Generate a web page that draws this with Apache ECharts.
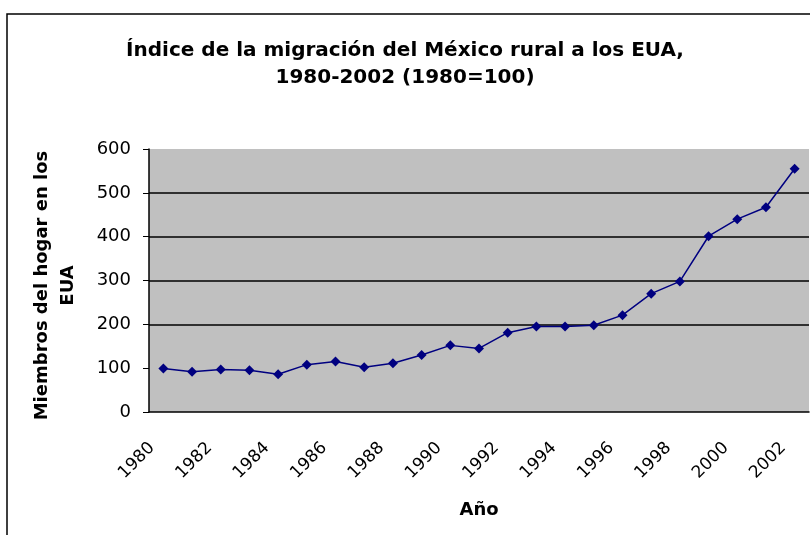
<!DOCTYPE html>
<html>
<head>
<meta charset="utf-8">
<script src="https://cdn.jsdelivr.net/npm/echarts@6/dist/echarts.min.js"></script>
<style>
  html, body { margin: 0; padding: 0; background: #fff; }
  #chart { width: 810px; height: 535px; }
</style>
</head>
<body>
<div id="chart"></div>
<script>
const years = ['1980', '1981', '1982', '1983', '1984', '1985', '1986', '1987', '1988', '1989', '1990', '1991',
  '1992', '1993', '1994', '1995', '1996', '1997', '1998', '1999', '2000', '2001', '2002']
const indexValues = [99, 92, 97, 95, 86, 108, 115, 102, 111, 130, 152, 145,
  181, 195, 195, 198, 221, 270, 298, 401, 440, 467, 555]
const gridLines = [200, 300, 400, 500]

const font = '"DejaVu Sans", Verdana, sans-serif'
const chart = echarts.init(document.getElementById('chart'))
chart.setOption({
  animation: false,
  textStyle: { fontFamily: font },
  title: {
    text: 'Índice de la migración del México rural a los EUA,\n1980-2002 (1980=100)',
    left: 'center', top: 32,
    textStyle: { fontSize: 20, fontWeight: 'bold', color: '#000', lineHeight: 27, fontFamily: font }
  },
  graphic: [{
    type: 'rect', silent: true, z: -1,
    shape: { x: 7, y: 14, width: 900, height: 700 },
    style: { fill: 'none', stroke: '#000', lineWidth: 1.5 }
  }],
  grid: { left: 149, right: 1, top: 149, bottom: 123 },
  xAxis: {
    type: 'category', data: years, boundaryGap: true,
    name: 'Año', nameLocation: 'middle', nameGap: 89,
    nameTextStyle: { fontSize: 18, fontWeight: 'bold', color: '#000' },
    axisLine: { lineStyle: { color: '#000', width: 1.5 } },
    axisTick: { interval: 0, length: 6, lineStyle: { color: '#000' } },
    axisLabel: { interval: 1, rotate: 45, fontSize: 17, color: '#000', margin: 22, padding: [0, 16, 0, 0] },
    splitLine: { show: false }
  },
  yAxis: {
    type: 'value', min: 0, max: 600, interval: 100,
    name: 'Miembros del hogar en los\nEUA', nameLocation: 'middle', nameGap: 68,
    nameTextStyle: { fontSize: 18, fontWeight: 'bold', color: '#000', lineHeight: 26, align: 'center', padding: [0, 10, 0, 0] },
    axisLine: { show: true, lineStyle: { color: '#000', width: 1.5 } },
    axisTick: { show: true, length: 6, lineStyle: { color: '#000' } },
    axisLabel: { fontSize: 18, color: '#000', margin: 18 },
    splitLine: { show: false },
    splitArea: { show: true, areaStyle: { color: ['#c0c0c0'] } }
  },
  series: [{
    type: 'line', data: indexValues,
    symbol: 'diamond', symbolSize: 10,
    lineStyle: { color: '#000080', width: 1.5 },
    itemStyle: { color: '#000080' },
    z: 3,
    markLine: {
      silent: true, symbol: 'none', label: { show: false }, z: 1,
      lineStyle: { color: '#000', type: 'solid', width: 1.5 },
      data: gridLines.map(v => ({ yAxis: v }))
    }
  }]
})
</script>
</body>
</html>
